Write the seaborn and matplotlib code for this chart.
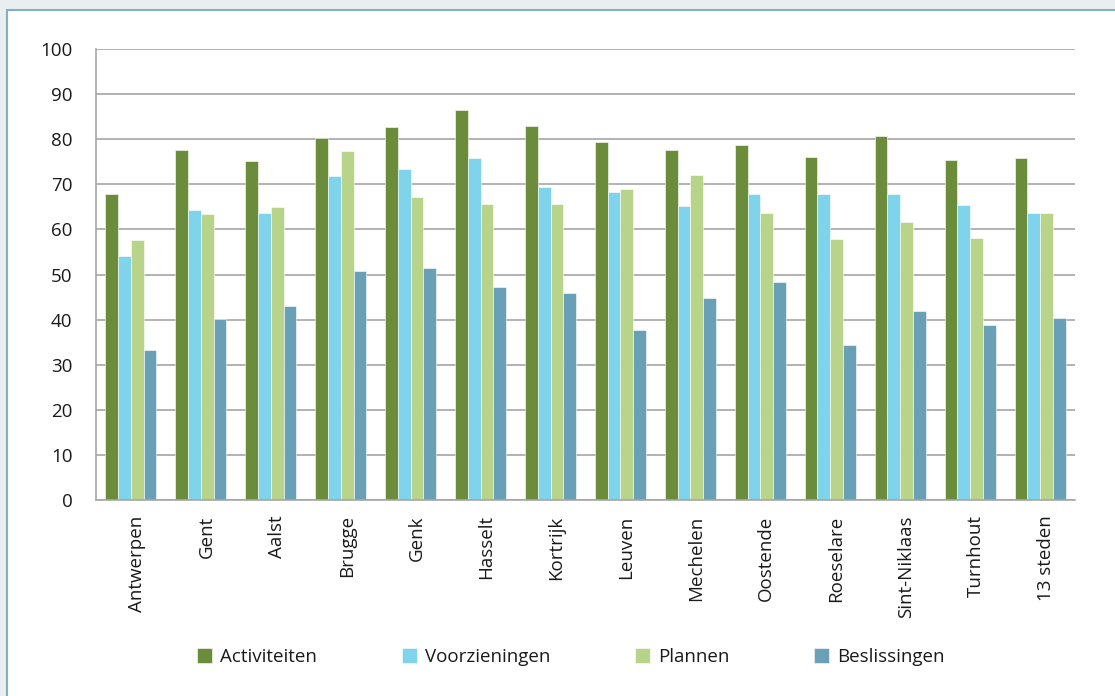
import matplotlib
matplotlib.use("Agg")
import numpy as np
import pandas as pd
import matplotlib.pyplot as plt
import seaborn as sns
from matplotlib.patches import Rectangle
from matplotlib.ticker import FixedLocator
from matplotlib.transforms import ScaledTranslation

# Data
steden = ["Antwerpen", "Gent", "Aalst", "Brugge", "Genk", "Hasselt", "Kortrijk",
          "Leuven", "Mechelen", "Oostende", "Roeselare", "Sint-Niklaas", "Turnhout",
          "13 steden"]
activiteiten = [67.8, 77.5, 75.2, 80.2, 82.7, 86.4, 82.9, 79.4, 77.5, 78.7, 76.0, 80.7, 75.3, 75.8]
voorzieningen = [54.0, 64.3, 63.6, 71.8, 73.5, 75.8, 69.3, 68.3, 65.1, 67.9, 67.9, 67.8, 65.3, 63.6]
plannen = [57.6, 63.4, 65.0, 77.4, 67.1, 65.6, 65.6, 68.9, 72.1, 63.6, 57.9, 61.6, 58.1, 63.6]
beslissingen = [33.3, 40.1, 43.0, 50.8, 51.4, 47.3, 45.8, 37.8, 44.8, 48.3, 34.4, 42.0, 38.8, 40.4]

reeksen = ["Activiteiten", "Voorzieningen", "Plannen", "Beslissingen"]
kleuren = ["#6b8c3a", "#7fd3ea", "#b8d48a", "#6aa0b5"]

df = pd.DataFrame({
    "stad": steden * 4,
    "reeks": np.repeat(reeksen, len(steden)),
    "waarde": activiteiten + voorzieningen + plannen + beslissingen,
})

GRID = "#a6a6a6"
TEXT = "#1a1a1a"
FS = 13.5

sns.set_theme(style="white")
plt.rcParams['font.family'] = ['Open Sans', 'DejaVu Sans']
plt.rcParams['text.color'] = TEXT

fig = plt.figure(figsize=(11.15, 6.96), dpi=100, facecolor="#e9eef1")
# wit paneel met lichtblauwe rand, loopt door buiten rechter-/onderrand
fig.patches.append(Rectangle((7 / 1115, -0.05), 1.1, 1 - 10 / 696 + 0.05,
                             transform=fig.transFigure, facecolor="white",
                             edgecolor="#7fb0c4", linewidth=1.5, zorder=-10))

ax = fig.add_axes([96 / 1115, 1 - 500 / 696, 979 / 1115, 451 / 696])
ax.set_facecolor("white")
ax.set_zorder(1)

sns.barplot(data=df, x="stad", y="waarde", hue="reeks", hue_order=reeksen,
            palette=kleuren, width=0.73, edgecolor="white", linewidth=0.4,
            saturation=1, ax=ax)

ax.set_ylim(0, 100)
ax.set_xlim(-0.5, len(steden) - 0.5)
ax.set_yticks(np.arange(0, 101, 10))
ax.yaxis.grid(True, color=GRID, linewidth=1.2)
ax.set_axisbelow(True)
ax.tick_params(axis="y", length=11, color=GRID, width=1.2, labelsize=FS,
               labelcolor=TEXT, pad=6)

ax.xaxis.set_minor_locator(FixedLocator(np.arange(-0.5, len(steden), 1.0)))
ax.tick_params(axis="x", which="major", length=0, pad=11, labelsize=FS,
               labelcolor=TEXT)
ax.tick_params(axis="x", which="minor", length=9, color=GRID, width=1.2)
shift = ScaledTranslation(6 / 100, 0, fig.dpi_scale_trans)
for lbl in ax.get_xticklabels():
    lbl.set_rotation(90)
    lbl.set_va("top")
    lbl.set_ha("center")
    lbl.set_transform(lbl.get_transform() + shift)

ax.set_xlabel("")
ax.set_ylabel("")
for side in ["top", "right"]:
    ax.spines[side].set_visible(False)
for side in ["left", "bottom"]:
    ax.spines[side].set_color(GRID)
    ax.spines[side].set_linewidth(1.2)

handles, labels = ax.get_legend_handles_labels()
ax.legend_.remove()
fig.legend(handles, labels, loc="center", bbox_to_anchor=(0.512, 1 - 657 / 696),
           ncol=4, frameon=False, fontsize=FS, handlelength=0.8,
           handleheight=0.8, handletextpad=0.45, columnspacing=4.5)

fig.savefig("out.png", dpi=100, facecolor=fig.get_facecolor())
